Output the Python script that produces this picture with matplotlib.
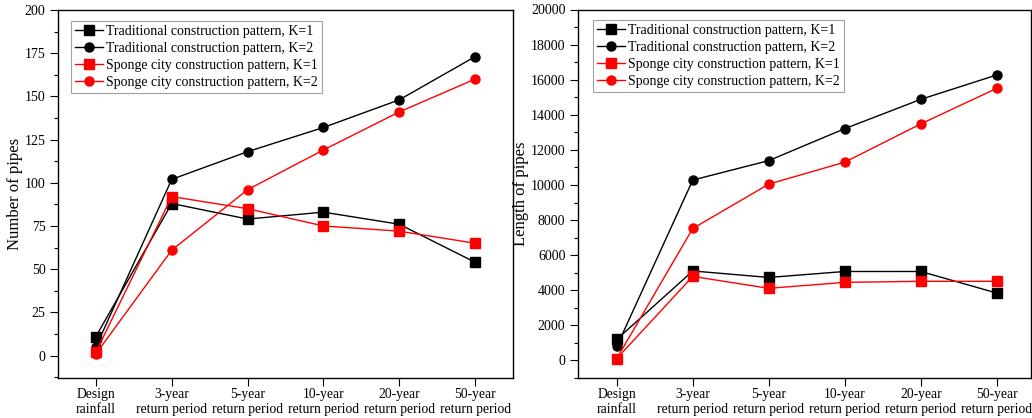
import matplotlib
matplotlib.use("Agg")
import matplotlib.pyplot as plt
from matplotlib.ticker import MultipleLocator, AutoMinorLocator

plt.rcParams['font.family'] = ['Liberation Serif', 'DejaVu Serif']

categories = ["Design\nrainfall", "3-year\nreturn period", "5-year\nreturn period",
              "10-year\nreturn period", "20-year\nreturn period", "50-year\nreturn period"]

labels = ["Traditional construction pattern, K=1",
          "Traditional construction pattern, K=2",
          "Sponge city construction pattern, K=1",
          "Sponge city construction pattern, K=2"]

num_trad_k1 = [11, 88, 79, 83, 76, 54]
num_trad_k2 = [5, 102, 118, 132, 148, 173]
num_sponge_k1 = [2, 92, 85, 75, 72, 65]
num_sponge_k2 = [1, 61, 96, 119, 141, 160]

len_trad_k1 = [1200, 5100, 4730, 5070, 5070, 3840]
len_trad_k2 = [800, 10280, 11390, 13210, 14880, 16270]
len_sponge_k1 = [110, 4790, 4110, 4450, 4510, 4510]
len_sponge_k2 = [110, 7520, 10050, 11300, 13480, 15510]

colors = ["black", "black", "red", "red"]
markers = ["s", "o", "s", "o"]

fig = plt.figure(figsize=(10.32, 4.18), dpi=100)
W, H = 1032, 418
ax1 = fig.add_axes([58 / W, (H - 378) / H, (513 - 58) / W, (378 - 10) / H])
ax2 = fig.add_axes([578 / W, (H - 378) / H, (1031 - 578) / W, (378 - 9.5) / H])

x = list(range(len(categories)))

def draw(ax, series, ylim, major, ylabel, xlim, leg_anchor):
    for s, c, m, lab in zip(series, colors, markers, labels):
        ax.plot(x, s, color=c, marker=m, markersize=6.5, linewidth=1.0, label=lab)
    ax.set_xlim(*xlim)
    ax.set_ylim(*ylim)
    ax.set_xticks(x)
    ax.set_xticklabels(categories, fontsize=9.8, linespacing=1.2)
    ax.yaxis.set_major_locator(MultipleLocator(major))
    ax.yaxis.set_minor_locator(AutoMinorLocator(2))
    ax.tick_params(axis='both', which='major', direction='out', length=5.5, width=0.8,
                   labelsize=10, top=False, right=False)
    ax.tick_params(axis='x', which='major', labelsize=9.8, pad=1.5)
    ax.tick_params(axis='y', which='minor', direction='out', length=3, width=0.8)
    ax.tick_params(axis='x', which='minor', bottom=False)
    ax.set_ylabel(ylabel, fontsize=12)
    for sp in ax.spines.values():
        sp.set_linewidth(1.0)
    leg = ax.legend(loc='upper left', bbox_to_anchor=leg_anchor, fontsize=10,
                    numpoints=1, handlelength=2.0, frameon=True, fancybox=False,
                    edgecolor='#888888', borderpad=0.3, labelspacing=0.28,
                    handletextpad=0.25, borderaxespad=0.0)
    leg.get_frame().set_linewidth(0.8)

draw(ax1, [num_trad_k1, num_trad_k2, num_sponge_k1, num_sponge_k2],
     (-13, 200), 25, "Number of pipes", (-0.5, 5.5), (13 / 455, 1 - 11 / 368))
draw(ax2, [len_trad_k1, len_trad_k2, len_sponge_k1, len_sponge_k2],
     (-1000, 20000), 2000, "Length of pipes", (-0.51, 5.45), (15 / 453, 1 - 10.5 / 368))

ax1.yaxis.set_label_coords(-0.077, 0.5)
ax2.yaxis.set_label_coords(-0.108, 0.5)

fig.savefig("out.png", dpi=100)
